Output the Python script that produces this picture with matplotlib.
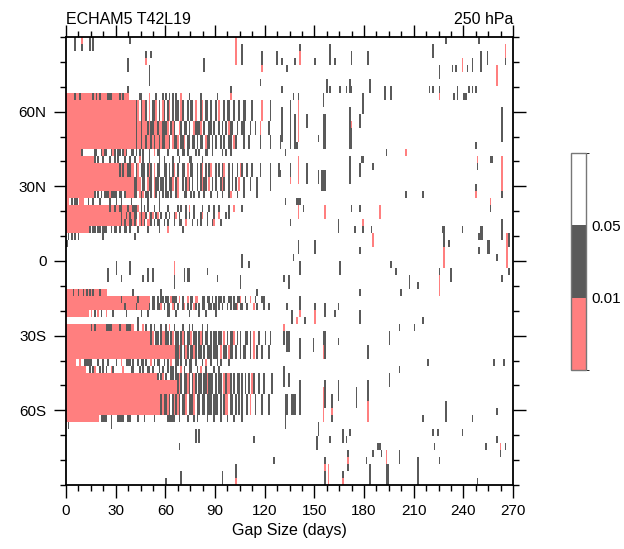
import re
import numpy as np
import matplotlib
matplotlib.use("Agg")
import matplotlib.pyplot as plt
from matplotlib.colors import ListedColormap, BoundaryNorm
from matplotlib.ticker import MultipleLocator
import matplotlib.cm as cm

plt.rcParams['font.family'] = ['Liberation Sans', 'DejaVu Sans']

N_DAYS = 270
N_LAT = 64
lat_edges = np.linspace(90, -90, N_LAT + 1)
day_edges = np.arange(0, N_DAYS + 1)

# significance class per cell: 'r' p<0.01, 'd' 0.01<=p<0.05, '.' p>=0.05
# pattern syntax: class char followed by optional repeat count, starting at day 0
row_patterns = [
    (8, 8, "r5dr2dr7drdrdr4d3r4drdr3.6d2.4r.3d.3d.d.d.d.d.2r.4d.6d.9d.7r"),
    (9, 11, "r40rrdr.drrd.r.ddr.d.rd.dr.d.dd.rd..d.dd.r..dr.dd.d..d.r..d.dd..d..d..dd...d.....r....d...."),
    (12, 13, "r40rrdrrdrrrdrddrrdrrdddr.drd..rd.dd.d..rdddr.d..dd.d..d.d.d.rdd..d..dd...d..d..r....d...."),
    (14, 15, "r40rrdrrdrrdrrdrdrrdrddrrd.rddr.ddr.dd.dd.d.dd.rdd.d.d..d.d..dd.rd....d..d......d.....d.....d"),
    (16, 16, "r9d.7d2.2drd2.2drd.d2.drd.2d2.d.d.d...d..r.dd....d.....d..dd.d....d.d...dd..d.....d.d..d"),
    (17, 17, "r17d.d.2d.3d.2d.d.3d.2d..d..r.d...d.....d..d....d...d.....dd......d...."),
    (18, 19, "r32drdr2d2r2.dr.ddd.drd.r.dd..dd.d.dr.d..dd.r.dd..d.dr.d.dr..d.d.dr..d.d..d.rd..d..d....d.....d....d"),
    (20, 21, "r40rddrr.dd.rdd.rdd.dd.d.ddr.dr..d.drd.d..d.drdd.r.d.d..drd..d.d.d.r..d...d...d.......d...."),
    (22, 22, "r17d.d.d.d3rd4.d2.dr4rdd.rdr.dd.d.rd.d.d.dd.d..dr...dd..d.d..d..d...d...d..d...dr...d...d.......d"),
    (23, 23, "r2.d.d2.r3..d..d...d.....d...d..d.....d.....d...d......d"),
    (24, 24, "r26dr2dr2d2r3dr2d3r.d.d.d.3d.2d.4d.5d.d.2d.r.2d.4d.3d.2d.2d.5d.2r.4d"),
    (25, 25, "r33drrdrdrrdd.rdrrd.rdr.dr.d..d.d..dr.d...d.d..d...dr..d...d..r...d.d"),
    (26, 26, "r33drdrrddrdr.rdrd.rrd.d.dd..d.d...d..dd..r...d..d.d...d..dr...d"),
    (27, 27, "r14d.d2.d2.d3.2d.dd.d.2d2.d.4d.5d.6d.4r.8d"),
    (36, 36, "r4dr2dr2drdrdrdr3dr4.15d.16d"),
    (37, 37, "r33dr9dr7.dd.d.dd.dd.rddd.r.d..r.dd.rr..dd.dd.d.d.dd.d..dd.d.ddr..d..r..d...dd"),
    (38, 38, "r35dr6dr6rd.dd.ddr.d.dd.rd.d..dr.d.d.rd.d.dd..dd.dd.d.d..d.d.ddr.dd..d...r.d...d..d"),
    (39, 39, "r14.r.d.r.d.2r.3d.7d.8d.3d.11d2.3d.7d.5d.3d.5d"),
    (40, 40, ".43d"),
    (41, 41, "r15drdr6d4r4dr3d3r2..d..r.d..d.d...d..d.r..d....d...d.d.....d..d"),
    (42, 43, "r51dr.dd.drrdd.dr.dd.drd.ddr.dd.drd.dd.d.dd.dd.r.d.ddr.d.d..dd.d.r..d...d..d....."),
    (44, 45, "r66ddrd.drd.ddrd.dd.d.ddd.ddd.r.dd.rdd.d..d.dd..d.r.d..d...d..."),
    (46, 46, "r6.2r.2d5.3d.2d.2d.4d.2r.2d3.d..d.dd.d..r.d.dd..d.d.r..dd.d..d.dd..d...d.r..d...d.d....d"),
    (47, 47, "r12.2d.dr.2d.d.d.2rd.5r.4dd...d.d..dd.d...d.d..d.dd.d..r.d..dd...d.r..d....d..d"),
    (48, 48, "r55d.dr.d..dd.ddrd.ddrd.drd.dd.ddrddd.d.dd.rdrrd.d.dd.d.d.d.rd..d..d....d.."),
    (49, 50, "r67drd.ddrd.drd.dd.ddrddd.d.dd.rdrrd.d.dd.d.d.d.rd..d..d....d.."),
    (51, 53, "r57drddrd.drdrd.ddr.dddr.dd.dd.ddd.ddd.d.drr.dd.d.d.d..d.r..d...d...d...."),
    (54, 54, "r20.dddd..d...dddd..dd....d...d.....d.......ddddd..d....d...d.d.....d...d...d...d...d....d"),
]

# isolated vertical marks: (day, first_row, last_row, class)
marks = [
    (5, 0, 1, 'd'), (9, 0, 0, 'r'), (9, 1, 1, 'd'), (14, 0, 1, 'd'), (16, 0, 1, 'd'), (38, 0, 0, 'd'),
    (102, 0, 3, 'r'), (106, 1, 3, 'd'), (37, 3, 4, 'd'), (48, 2, 2, 'd'), (48, 3, 3, 'r'), (51, 2, 2, 'd'),
    (50, 4, 6, 'd'), (83, 3, 4, 'd'), (118, 2, 3, 'd'), (118, 4, 4, 'r'), (117, 6, 6, 'd'), (127, 2, 3, 'd'),
    (99, 7, 7, 'd'), (37, 7, 7, 'd'),
    (141, 1, 1, 'd'), (141, 2, 3, 'r'), (130, 3, 3, 'd'), (133, 4, 4, 'd'), (138, 3, 3, 'd'), (150, 3, 3, 'd'),
    (159, 1, 3, 'd'), (162, 3, 3, 'd'), (172, 2, 3, 'd'), (182, 2, 3, 'd'), (221, 1, 2, 'd'), (229, 0, 0, 'd'),
    (249, 0, 0, 'd'), (265, 1, 2, 'r'), (265, 3, 3, 'd'), (225, 4, 5, 'd'), (233, 4, 4, 'd'), (235, 4, 4, 'd'),
    (239, 3, 4, 'r'), (242, 4, 4, 'd'), (245, 3, 4, 'd'), (250, 2, 4, 'd'), (254, 2, 3, 'd'), (260, 4, 6, 'r'),
    (130, 7, 7, 'd'), (157, 6, 7, 'd'), (159, 7, 7, 'd'), (165, 7, 7, 'd'), (169, 7, 7, 'd'), (171, 6, 7, 'd'),
    (172, 7, 7, 'd'), (183, 6, 7, 'd'), (192, 7, 8, 'd'), (196, 7, 8, 'd'), (219, 7, 7, 'd'), (221, 7, 7, 'd'),
    (225, 7, 7, 'd'), (225, 8, 8, 'r'), (234, 8, 8, 'd'), (236, 7, 8, 'd'), (240, 8, 8, 'd'), (241, 8, 8, 'd'),
    (243, 7, 7, 'd'), (245, 7, 7, 'd'), (247, 7, 7, 'd'), (137, 8, 8, 'd'), (140, 8, 8, 'd'), (140, 9, 14, 'r'),
    (135, 9, 15, 'd'), (138, 11, 15, 'd'), (130, 10, 14, 'd'), (145, 11, 12, 'd'), (155, 8, 9, 'd'),
    (155, 11, 15, 'd'), (156, 11, 15, 'd'), (152, 14, 14, 'd'), (171, 10, 15, 'd'), (172, 12, 12, 'r'),
    (172, 13, 15, 'd'), (177, 11, 12, 'd'), (179, 8, 10, 'd'), (263, 10, 14, 'd'), (247, 15, 15, 'd'),
    (193, 16, 16, 'd'), (205, 16, 16, 'r'), (132, 16, 16, 'd'), (139, 15, 15, 'd'), (171, 17, 20, 'd'),
    (178, 17, 17, 'd'), (179, 17, 17, 'd'), (177, 18, 19, 'd'), (185, 18, 18, 'd'), (135, 18, 19, 'd'),
    (135, 20, 20, 'r'), (140, 17, 20, 'r'), (145, 18, 20, 'd'), (129, 19, 19, 'd'), (152, 19, 20, 'd'),
    (154, 19, 21, 'd'), (155, 19, 21, 'd'), (156, 19, 21, 'd'), (248, 17, 17, 'r'), (248, 18, 18, 'd'),
    (256, 17, 17, 'd'), (257, 17, 17, 'd'), (263, 17, 21, 'r'), (247, 21, 21, 'd'), (247, 22, 22, 'r'),
    (263, 22, 22, 'd'), (205, 22, 22, 'd'), (215, 22, 22, 'd'), (132, 23, 23, 'd'), (139, 23, 23, 'd'),
    (140, 23, 23, 'd'), (141, 23, 23, 'd'), (140, 24, 25, 'r'), (143, 24, 24, 'd'), (156, 24, 25, 'r'),
    (172, 24, 24, 'd'), (177, 24, 24, 'd'), (189, 24, 25, 'r'), (256, 23, 23, 'r'), (256, 24, 24, 'd'),
    (164, 26, 27, 'd'), (179, 26, 26, 'r'), (179, 27, 27, 'd'), (174, 27, 27, 'd'), (184, 27, 27, 'd'),
    (185, 28, 29, 'r'), (135, 26, 26, 'd'), (227, 27, 27, 'd'), (228, 27, 29, 'd'), (228, 30, 32, 'r'),
    (239, 27, 27, 'd'), (250, 27, 28, 'd'), (251, 27, 28, 'd'), (249, 28, 28, 'd'), (263, 26, 28, 'd'),
    (266, 28, 32, 'r'), (267, 28, 29, 'd'), (267, 33, 33, 'd'), (140, 29, 30, 'd'), (150, 29, 30, 'd'),
    (177, 30, 30, 'd'), (231, 29, 29, 'd'), (249, 30, 30, 'd'), (254, 29, 30, 'd'), (255, 29, 30, 'd'),
    (137, 31, 31, 'd'), (260, 31, 31, 'd'),
    (141, 32, 33, 'd'), (165, 32, 33, 'd'), (196, 32, 32, 'd'), (199, 33, 33, 'd'), (225, 33, 33, 'd'),
    (225, 34, 36, 'r'), (232, 33, 34, 'd'), (263, 34, 34, 'd'), (131, 34, 34, 'd'), (134, 34, 35, 'd'),
    (207, 34, 35, 'd'), (212, 35, 35, 'd'), (177, 36, 36, 'd'), (202, 36, 36, 'd'), (141, 37, 38, 'd'),
    (141, 39, 39, 'r'), (133, 38, 38, 'd'), (150, 38, 38, 'd'), (150, 39, 40, 'r'), (156, 38, 39, 'd'),
    (164, 38, 38, 'd'), (162, 39, 39, 'd'), (136, 39, 40, 'd'), (139, 40, 40, 'r'), (144, 40, 40, 'd'),
    (177, 39, 40, 'd'), (131, 41, 41, 'r'), (201, 41, 41, 'd'), (210, 41, 41, 'd'), (215, 40, 40, 'd'),
    (131, 42, 43, 'd'), (133, 42, 44, 'd'), (134, 42, 44, 'd'), (141, 43, 45, 'd'), (149, 43, 44, 'd'),
    (155, 44, 45, 'r'), (155, 42, 43, 'd'), (156, 42, 45, 'd'), (164, 43, 43, 'd'), (182, 44, 45, 'd'),
    (195, 42, 43, 'd'), (218, 46, 46, 'd'), (258, 46, 46, 'd'), (264, 46, 46, 'd'), (131, 47, 49, 'd'),
    (134, 48, 49, 'd'), (201, 47, 47, 'd'), (195, 48, 49, 'd'), (141, 49, 53, 'd'), (155, 50, 54, 'r'),
    (156, 49, 52, 'd'), (132, 51, 55, 'd'), (133, 51, 53, 'd'), (136, 51, 53, 'd'), (137, 51, 53, 'd'),
    (138, 51, 53, 'd'), (160, 51, 52, 'd'), (160, 53, 53, 'r'), (160, 54, 54, 'd'), (164, 49, 51, 'd'),
    (175, 50, 52, 'd'), (182, 49, 51, 'd'), (182, 52, 54, 'r'), (215, 54, 54, 'd'), (229, 52, 54, 'd'),
    (245, 54, 54, 'd'), (260, 53, 53, 'd'), (152, 55, 56, 'd'), (151, 57, 58, 'd'), (159, 57, 57, 'd'),
    (167, 56, 57, 'd'), (169, 57, 57, 'd'), (171, 56, 56, 'd'), (221, 56, 56, 'd'), (224, 56, 56, 'd'),
    (239, 56, 56, 'd'), (222, 58, 58, 'd'), (253, 58, 58, 'd'), (260, 57, 57, 'd'), (262, 58, 58, 'r'),
    (262, 59, 59, 'd'), (265, 58, 58, 'd'), (188, 58, 58, 'd'), (189, 58, 58, 'd'), (190, 59, 59, 'd'),
    (185, 59, 59, 'd'), (193, 59, 60, 'r'), (193, 61, 63, 'd'), (194, 61, 63, 'd'), (201, 59, 60, 'd'),
    (170, 59, 59, 'd'), (170, 60, 60, 'r'), (170, 61, 61, 'd'), (156, 60, 60, 'd'), (156, 61, 61, 'r'),
    (156, 62, 63, 'd'), (158, 61, 63, 'r'), (181, 60, 60, 'd'), (183, 61, 63, 'd'), (212, 60, 63, 'd'),
    (225, 60, 60, 'd'), (167, 62, 62, 'd'), (167, 63, 63, 'r'), (248, 63, 63, 'd'),
    (1, 55, 55, 'd'), (27, 55, 55, 'd'), (78, 56, 57, 'd'), (80, 56, 57, 'd'), (68, 58, 58, 'd'),
    (113, 57, 57, 'd'), (125, 60, 60, 'd'), (69, 62, 63, 'd'), (60, 63, 63, 'd'), (94, 62, 63, 'd'),
    (102, 61, 62, 'd'), (102, 63, 63, 'r'),
    (1, 28, 28, 'd'), (3, 28, 28, 'd'), (5, 28, 28, 'd'), (7, 28, 28, 'd'), (22, 28, 28, 'd'), (41, 28, 28, 'd'),
    (0, 29, 29, 'd'), (106, 31, 32, 'd'), (110, 32, 32, 'd'), (25, 33, 34, 'd'), (30, 32, 33, 'd'),
    (33, 34, 34, 'd'), (38, 32, 33, 'd'), (46, 34, 34, 'd'), (49, 33, 34, 'd'), (52, 33, 34, 'd'),
    (65, 32, 33, 'r'), (65, 34, 35, 'd'), (71, 33, 34, 'd'), (73, 33, 34, 'd'), (74, 33, 34, 'd'),
    (85, 33, 33, 'd'), (91, 34, 34, 'd'), (105, 34, 35, 'd'), (131, 34, 34, 'd'), (115, 36, 36, 'd'),
]

class_value = {'r': 0.005, 'd': 0.03, '.': 0.5}
bounds = [0.0, 0.01, 0.05, 1.0]
colors = ['#FF7F7F', '#5A5A5A', '#FFFFFF']


def expand(pattern):
    out = []
    for ch, num in re.findall(r'([rd.])(\d*)', pattern):
        out.extend([ch] * (int(num) if num else 1))
    return out


pval = np.full((N_LAT, N_DAYS), 0.5)
for r0, r1, pat in row_patterns:
    cells = expand(pat)[:N_DAYS]
    for day, ch in enumerate(cells):
        pval[r0:r1 + 1, day] = class_value[ch]
for day, r0, r1, ch in marks:
    pval[r0:r1 + 1, day] = class_value[ch]

W, H = 624, 549
fig = plt.figure(figsize=(W / 100, H / 100), dpi=100)
ax = fig.add_axes([66 / W, 1 - 485 / H, 447 / W, 448 / H])

cmap = ListedColormap(colors)
norm = BoundaryNorm(bounds, cmap.N)
ax.pcolormesh(day_edges, lat_edges, pval, cmap=cmap, norm=norm, shading='flat')

ax.set_xlim(0, 270)
ax.set_ylim(-90, 90)
ax.set_xticks(np.arange(0, 271, 30))
ax.xaxis.set_minor_locator(MultipleLocator(7.5))
ax.set_yticks([-60, -30, 0, 30, 60])
ax.set_yticklabels(['60S', '30S', '0', '30N', '60N'])
ax.yaxis.set_minor_locator(MultipleLocator(10))
ax.tick_params(which='both', direction='out', top=True, right=True,
               labeltop=False, labelright=False, width=1.0, labelsize=11)
ax.tick_params(which='major', length=9, pad=5)
ax.tick_params(which='minor', length=4.5)
for s in ax.spines.values():
    s.set_linewidth(1.3)

ax.set_xlabel('Gap Size (days)', fontsize=11.5, labelpad=3)
ax.set_title('ECHAM5 T42L19', loc='left', fontsize=11.5, pad=9)
ax.set_title('250 hPa', loc='right', fontsize=11.5, pad=9)

cax = fig.add_axes([571 / W, 1 - 370 / H, 15 / W, 217 / H])
sm = cm.ScalarMappable(norm=norm, cmap=cmap)
cb = fig.colorbar(sm, cax=cax, ticks=[0.01, 0.05], spacing='uniform')
cb.ax.set_yticklabels(['0.01', '0.05'])
cb.ax.tick_params(length=0, labelsize=11, pad=4)
cb.outline.set_edgecolor('#777777')
cb.outline.set_linewidth(1.0)

fig.savefig('out.png', dpi=100)
